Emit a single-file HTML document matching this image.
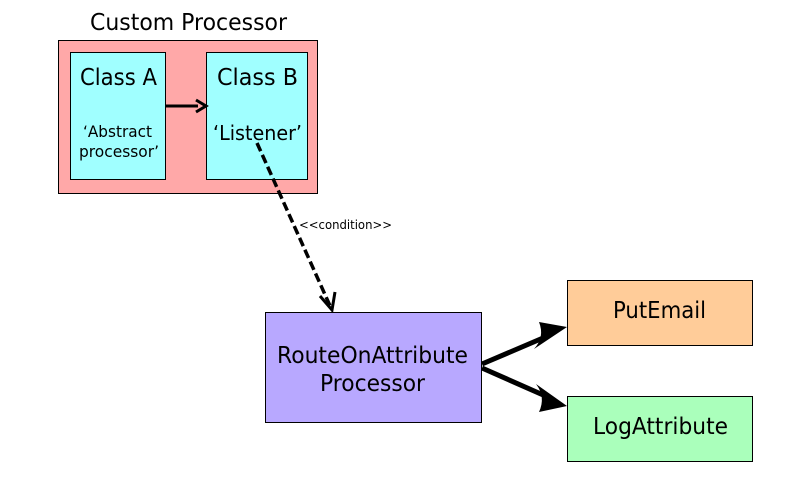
<!DOCTYPE html>
<html><head><meta charset="utf-8"><style>html,body{margin:0;padding:0;background:#fff}svg{display:block}</style></head>
<body>
<svg width="800" height="500" viewBox="0 0 800 500" xmlns="http://www.w3.org/2000/svg" font-family="'DejaVu Sans', 'Liberation Sans', sans-serif" fill="#000">
<defs>
<marker id="open" markerWidth="16" markerHeight="16" refX="8" refY="8" orient="auto" markerUnits="userSpaceOnUse">
<path d="M1,1 L8,8 L1,15" fill="none" stroke="#000" stroke-width="3"/>
</marker>
</defs>
<text x="90" y="30" font-size="23" textLength="197" lengthAdjust="spacingAndGlyphs">Custom Processor</text>
<rect x="58.5" y="40.5" width="259" height="153" fill="#ffa8a8" stroke="#000" stroke-width="1"/>
<rect x="70.5" y="52.5" width="95" height="127" fill="#a0ffff" stroke="#000" stroke-width="1"/>
<rect x="206.5" y="52.5" width="101" height="127" fill="#a0ffff" stroke="#000" stroke-width="1"/>
<text x="80" y="85" font-size="23" textLength="77" lengthAdjust="spacingAndGlyphs">Class A</text>
<text x="217" y="85" font-size="23" textLength="81" lengthAdjust="spacingAndGlyphs">Class B</text>
<text x="83" y="137" font-size="16" textLength="69" lengthAdjust="spacingAndGlyphs">‘Abstract</text>
<text x="79" y="157" font-size="16" textLength="80" lengthAdjust="spacingAndGlyphs">processor’</text>
<text x="213" y="140" font-size="20" textLength="89" lengthAdjust="spacingAndGlyphs">‘Listener’</text>
<line x1="166" y1="106" x2="198" y2="106" stroke="#000" stroke-width="3"/>
<path d="M196,100 L206,106 L196,112" fill="none" stroke="#000" stroke-width="3"/>
<line x1="257" y1="143" x2="331" y2="308" stroke="#000" stroke-width="3.5" stroke-dasharray="9,4"/>
<path d="M320,296 L332,310 L335,292" fill="none" stroke="#000" stroke-width="3"/>
<text x="299" y="229" font-size="12" textLength="93" lengthAdjust="spacingAndGlyphs">&lt;&lt;condition&gt;&gt;</text>
<rect x="265.5" y="312.5" width="216" height="110" fill="#b8a8ff" stroke="#000" stroke-width="1"/>
<text x="277" y="363" font-size="23" textLength="191" lengthAdjust="spacingAndGlyphs">RouteOnAttribute</text>
<text x="320" y="391" font-size="23" textLength="105" lengthAdjust="spacingAndGlyphs">Processor</text>
<rect x="567.5" y="280.5" width="185" height="65" fill="#ffcc99" stroke="#000" stroke-width="1"/>
<text x="613" y="318" font-size="23" textLength="93" lengthAdjust="spacingAndGlyphs">PutEmail</text>
<rect x="567.5" y="396.5" width="185" height="65" fill="#aaffbb" stroke="#000" stroke-width="1"/>
<text x="593" y="434" font-size="23" textLength="135" lengthAdjust="spacingAndGlyphs">LogAttribute</text>
<line x1="482" y1="364" x2="550" y2="335" stroke="#000" stroke-width="5"/>
<path d="M567,327 L534,349 Q545,337 539,322 Z" fill="#000"/>
<line x1="482" y1="368" x2="550" y2="398" stroke="#000" stroke-width="5"/>
<path d="M567,406 L539,412 Q546,397 536,384 Z" fill="#000"/>
</svg>
</body></html>
